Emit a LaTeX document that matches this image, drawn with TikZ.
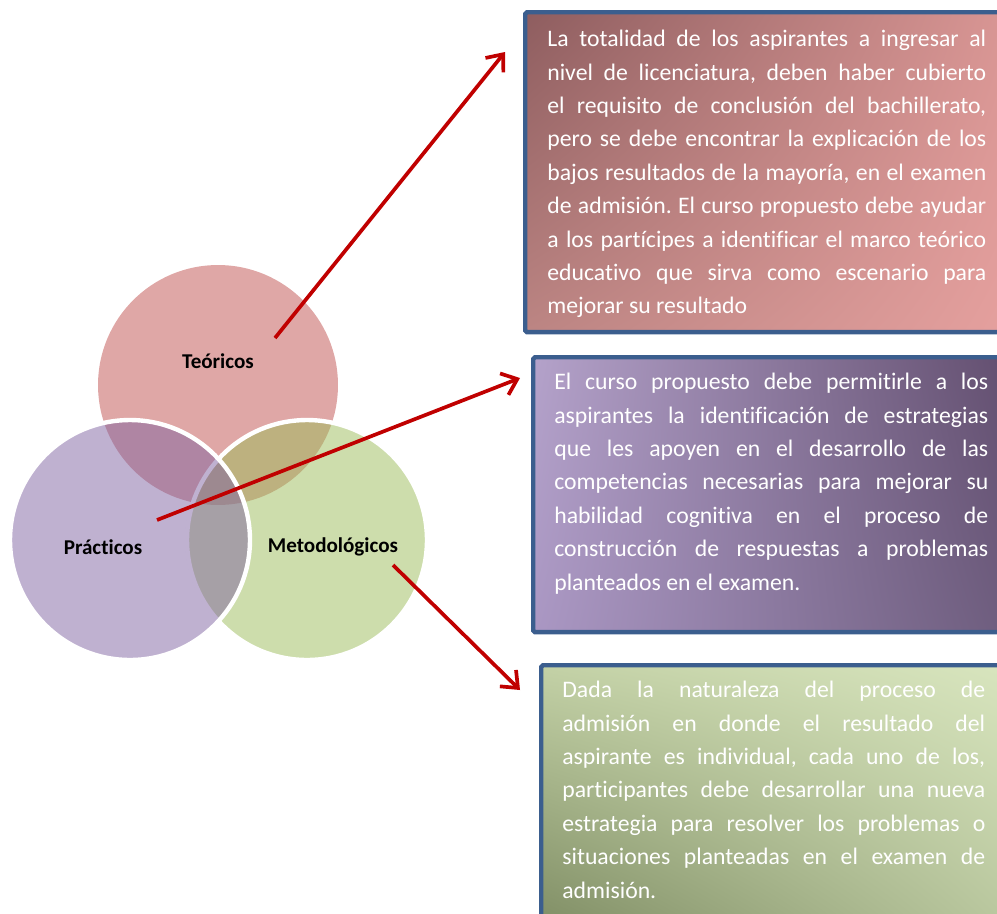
\documentclass[tikz,border=0pt]{standalone}
\usepackage{fontspec}
\setmainfont{Carlito}[Ligatures=CommonOff]
\usepackage{tikz}
\usetikzlibrary{shapes,arrows,positioning,calc,arrows.meta,shadings}
\frenchspacing

\definecolor{teorred}{HTML}{C0504D}
\definecolor{pracpurple}{HTML}{8064A2}
\definecolor{metgreen}{HTML}{9BBB59}
\definecolor{boxblue}{HTML}{3B5E8E}
\definecolor{arrowred}{HTML}{C00000}
% box shading corners
\definecolor{teoUL}{HTML}{8E5D5F}
\definecolor{teoUR}{HTML}{D99694}
\definecolor{teoLL}{HTML}{BC8583}
\definecolor{teoLR}{HTML}{E5A09E}
\definecolor{pracUL}{HTML}{B4A2CA}
\definecolor{pracUR}{HTML}{634F70}
\definecolor{pracLL}{HTML}{AA97C3}
\definecolor{pracLR}{HTML}{6E5D7E}
\definecolor{metUL}{HTML}{C3D1A6}
\definecolor{metUR}{HTML}{D8E5BE}
\definecolor{metLL}{HTML}{7F8D64}
\definecolor{metLR}{HTML}{B9C79E}

\tikzset{
  venn/.style={circle, draw=white, line width=2.5pt, fill opacity=0.5, minimum size=4.8cm, inner sep=0pt},
  vennlabel/.style={font=\fontsize{12}{14}\selectfont\bfseries, text=black},
  infobox/.style={rectangle, draw=boxblue, line width=2.5pt, rounded corners=1pt, anchor=north west, inner sep=0pt},
  infotext/.style={anchor=north west, inner sep=0pt, text=white, align=justify, font=\fontsize{13.5}{19}\selectfont},
  link/.style={draw=arrowred, line width=2.1pt, -{Straight Barb[length=2.8mm,width=4.6mm]}}
}

\begin{document}
\begin{tikzpicture}[x=0.02cm, y=-0.02cm]
    % Page frame
    \useasboundingbox (0,0) rectangle (997,913);
    \clip (0,0) rectangle (997,913);

    % Venn circles
    \node[venn, fill=teorred, draw=none] (teo) at (218,385) {};
    \node[venn, fill=metgreen] (met) at (307,540) {};
    \node[venn, fill=pracpurple] (prac) at (130,540) {};

    % Text boxes
    \node[infobox, minimum width=9.64cm, minimum height=6.4cm,
          upper left=teoUL, upper right=teoUR, lower left=teoLL, lower right=teoLR] (teobox) at (523,10) {};
    \node[infobox, minimum width=9.48cm, minimum height=5.5cm,
          upper left=pracUL, upper right=pracUR, lower left=pracLL, lower right=pracLR] (pracbox) at (531,355) {};
    \node[infobox, minimum width=9.32cm, minimum height=5.3cm,
          upper left=metUL, upper right=metUR, lower left=metLL, lower right=metLR] (metbox) at (539,663) {};

    % Box texts
    \node[infotext, text width=8.78cm] (teotext) at (547,30) {La totalidad de los aspirantes a ingresar al\linebreak
      nivel de licenciatura, deben haber cubierto\linebreak
      el requisito de conclusión del bachillerato,\linebreak
      pero se debe encontrar la explicación de los\linebreak
      bajos resultados de la mayoría, en el examen\linebreak
      de admisión. El curso propuesto debe ayudar\linebreak
      a los partícipes a identificar el marco teórico\linebreak
      educativo que sirva como escenario para\linebreak
      mejorar su resultado};
    \node[infotext, text width=8.68cm] (practext) at (554,373) {El curso propuesto debe permitirle a los\linebreak
      aspirantes la identificación de estrategias\linebreak
      que les apoyen en el desarrollo de las\linebreak
      competencias necesarias para mejorar su\linebreak
      habilidad cognitiva en el proceso de\linebreak
      construcción de respuestas a problemas\linebreak
      planteados en el examen.};
    \node[infotext, text width=8.46cm] (mettext) at (562,681) {Dada la naturaleza del proceso de\linebreak
      admisión en donde el resultado del\linebreak
      aspirante es individual, cada uno de los,\linebreak
      participantes debe desarrollar una nueva\linebreak
      estrategia para resolver los problemas o\linebreak
      situaciones planteadas en el examen de\linebreak
      admisión.};

    % Arrows
    \coordinate (teostart) at (275,338);
    \coordinate (teoend) at (505,52);
    \coordinate (pracstart) at (157,520);
    \coordinate (pracend) at (520,378);
    \coordinate (metstart) at (393,565);
    \coordinate (metend) at (520,690);
    \draw[link] (teostart) -- (teoend);
    \draw[link] (pracstart) -- (pracend);
    \draw[link] (metstart) -- (metend);

    % Circle labels
    \node[vennlabel] (teolabel) at (218,361) {Teóricos};
    \node[vennlabel] (praclabel) at (103,547) {Prácticos};
    \node[vennlabel] (metlabel) at (333,547) {Metodológicos};
\end{tikzpicture}
\end{document}
